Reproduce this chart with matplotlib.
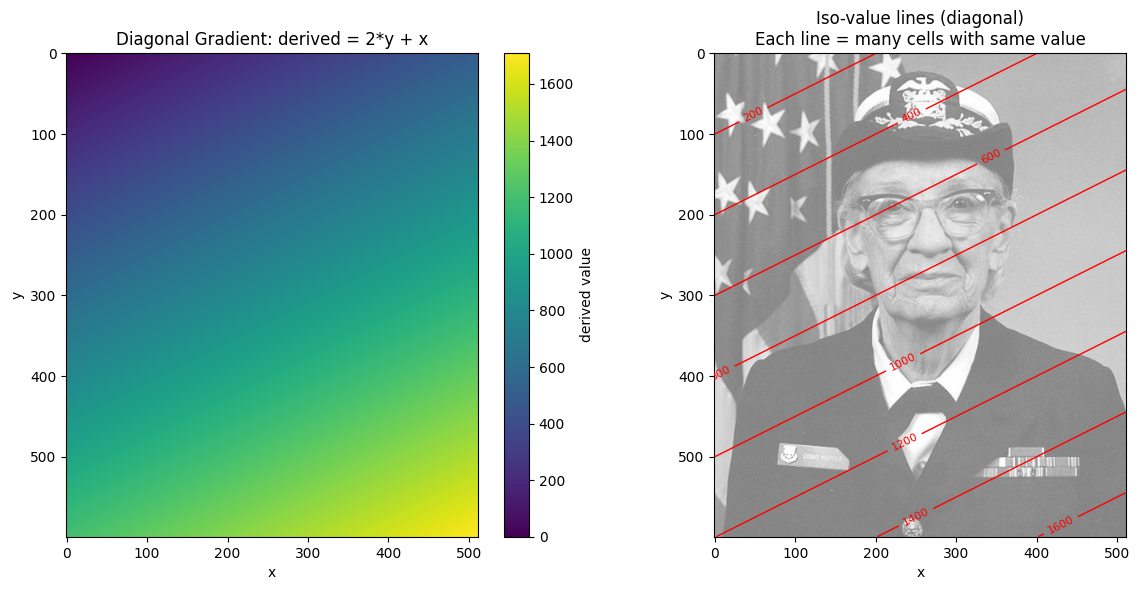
import numpy as np
import matplotlib
matplotlib.use("Agg")
import matplotlib.pyplot as plt
from matplotlib import cbook

levels = [200, 400, 600, 800, 1000, 1200, 1400, 1600]
x_ticks = [0, 100, 200, 300, 400, 500]
y_ticks = [0, 100, 200, 300, 400, 500]
label_x = [48, 245, 343, 7, 234, 236, 250, 430]
label_y = [76, 78, 128, 396, 383, 482, 575, 585]

with cbook.get_sample_data("grace_hopper.jpg") as f:
    img = plt.imread(f)
gray = img[..., :3].mean(axis=2)
h, w = gray.shape
x = np.arange(w)
y = np.arange(h)
X, Y = np.meshgrid(x, y)
derived = 2 * Y + X

fig = plt.figure(figsize=(11.4, 5.9), dpi=100)
W, H = 1140, 590
def box(l, t, r, b):
    return [l / W, 1 - b / H, (r - l) / W, (b - t) / H]

ax1 = fig.add_axes(box(66.2, 53, 478.2, 537))
im = ax1.imshow(derived, cmap="viridis", aspect="auto")
ax1.set_title("Diagonal Gradient: derived = 2*y + x")
ax1.set_xlabel("x")
ax1.set_ylabel("y")
ax1.set_xticks(x_ticks)
ax1.set_yticks(y_ticks)
cax = fig.add_axes(box(504, 53, 529, 537))
fig.colorbar(im, cax=cax, label="derived value")

ax2 = fig.add_axes(box(714.4, 53, 1126.4, 537))
ax2.imshow(gray, cmap="gray", alpha=0.5, aspect="auto")
cs = ax2.contour(X, Y, derived, levels=levels, colors="red", linewidths=1)
ax2.clabel(cs, inline=True, fontsize=8, manual=list(zip(label_x, label_y)))
ax2.set_title("Iso-value lines (diagonal)\nEach line = many cells with same value")
ax2.set_xlabel("x")
ax2.set_ylabel("y")
ax2.set_xticks(x_ticks)
ax2.set_yticks(y_ticks)

fig.savefig("out.png", dpi=100)
